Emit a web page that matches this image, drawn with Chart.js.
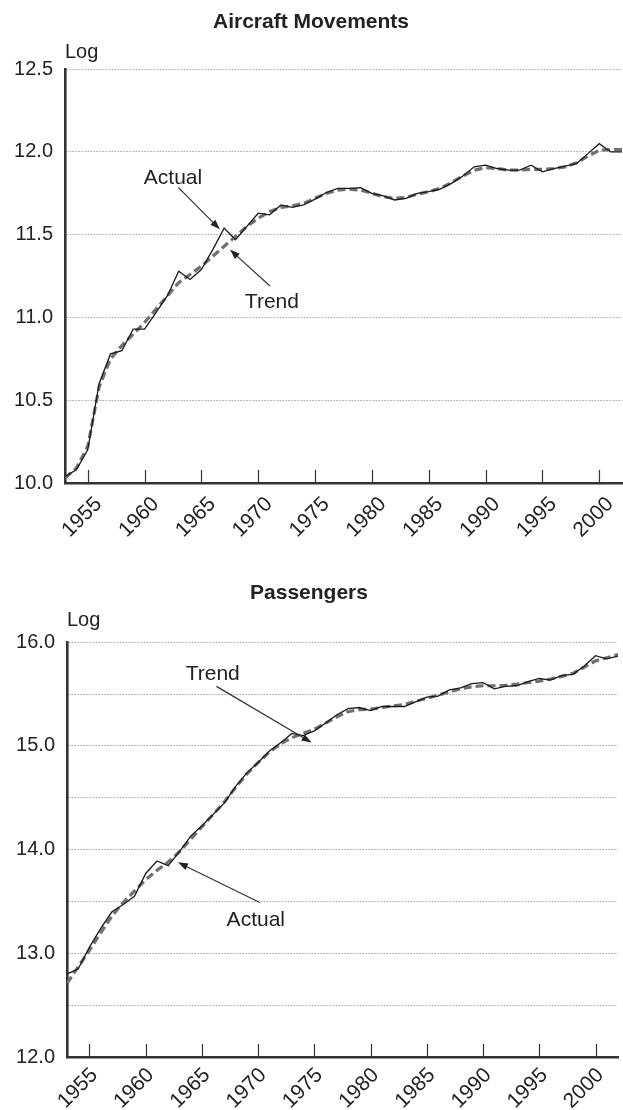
<!DOCTYPE html>
<html>
<head>
<meta charset="utf-8">
<script src="https://cdn.jsdelivr.net/npm/chart.js@4.4.0/dist/chart.umd.min.js"></script>
<style>
  html, body { margin: 0; padding: 0; background: #fff; }
  .box { position: absolute; left: 0; width: 623px; }
  #top { top: 0; height: 560px; }
  #bot { top: 560px; height: 550px; }
</style>
</head>
<body>
<div class="box" id="top"><canvas id="c1"></canvas></div>
<div class="box" id="bot"><canvas id="c2"></canvas></div>
<script>
// Aircraft movements / passengers, log scale, actual vs trend

const years = [1953, 1954, 1955, 1956, 1957, 1958, 1959, 1960, 1961, 1962,
  1963, 1964, 1965, 1966, 1967, 1968, 1969, 1970, 1971, 1972,
  1973, 1974, 1975, 1976, 1977, 1978, 1979, 1980, 1981, 1982,
  1983, 1984, 1985, 1986, 1987, 1988, 1989, 1990, 1991, 1992,
  1993, 1994, 1995, 1996, 1997, 1998, 1999, 2000, 2001, 2002];
const yearTicks = [1955, 1960, 1965, 1970, 1975, 1980, 1985, 1990, 1995, 2000];

const movActual = [10.04, 10.08, 10.2, 10.6, 10.78, 10.8, 10.93, 10.93, 11.03, 11.13,
  11.28, 11.23, 11.29, 11.41, 11.54, 11.47, 11.55, 11.63, 11.62, 11.68,
  11.665, 11.68, 11.715, 11.755, 11.78, 11.78, 11.785, 11.75, 11.735, 11.71,
  11.72, 11.75, 11.76, 11.775, 11.81, 11.855, 11.91, 11.92, 11.9, 11.89,
  11.89, 11.92, 11.88, 11.9, 11.915, 11.93, 11.99, 12.05, 12.0, 12.0];
const movTrend = [10.03, 10.09, 10.22, 10.58, 10.75, 10.83, 10.9, 10.97, 11.05, 11.13,
  11.21, 11.26, 11.31, 11.37, 11.43, 11.49, 11.55, 11.6, 11.64, 11.665,
  11.675, 11.69, 11.72, 11.75, 11.77, 11.775, 11.77, 11.75, 11.73, 11.72,
  11.725, 11.745, 11.76, 11.78, 11.815, 11.855, 11.89, 11.905, 11.9, 11.89,
  11.89, 11.895, 11.895, 11.9, 11.91, 11.935, 11.975, 12.01, 12.015, 12.015];

const paxActual = [12.8, 12.85, 13.06, 13.24, 13.4, 13.47, 13.55, 13.77, 13.89, 13.845,
  13.98, 14.13, 14.23, 14.34, 14.45, 14.61, 14.74, 14.84, 14.95, 15.03,
  15.12, 15.1, 15.145, 15.22, 15.3, 15.36, 15.37, 15.34, 15.38, 15.38,
  15.38, 15.425, 15.47, 15.48, 15.54, 15.56, 15.6, 15.61, 15.55, 15.575,
  15.58, 15.62, 15.65, 15.635, 15.68, 15.69, 15.77, 15.87, 15.84, 15.865];
const paxTrend = [12.71, 12.87, 13.03, 13.2, 13.36, 13.49, 13.6, 13.71, 13.8, 13.88,
  13.98, 14.1, 14.22, 14.34, 14.46, 14.6, 14.73, 14.84, 14.94, 15.02,
  15.08, 15.12, 15.16, 15.22, 15.28, 15.33, 15.35, 15.355, 15.37, 15.385,
  15.4, 15.43, 15.46, 15.49, 15.52, 15.55, 15.57, 15.58, 15.58, 15.585,
  15.595, 15.61, 15.625, 15.645, 15.67, 15.7, 15.76, 15.82, 15.85, 15.88];

// callouts, in data units: [year, value]
const movNotes = [
  { text: 'Actual', at: [1962.5, 11.84], from: [1962.96, 11.786], to: [1966.63, 11.533] },
  { text: 'Trend', at: [1971.2, 11.09], from: [1971.03, 11.19], to: [1967.51, 11.41] },
];
const paxNotes = [
  { text: 'Trend', at: [1965.96, 15.69], from: [1966.29, 15.574], to: [1974.75, 15.032] },
  { text: 'Actual', at: [1969.79, 13.32], from: [1970.14, 13.49], to: [1962.87, 13.877] },
];

const INK = '#222';
const FONT = "'Liberation Sans', Arial, Helvetica, sans-serif";
Chart.defaults.font.family = FONT;
Chart.defaults.color = INK;

const pts = (vals) => vals.map((v, i) => ({ x: years[i], y: v }));

const decor = {
  id: 'decor',
  afterDraw(chart, args, o) {
    const { ctx, chartArea: a, scales: { x, y } } = chart;
    ctx.save();
    // "Log" unit label above the axis
    ctx.fillStyle = INK;
    ctx.font = `20px ${FONT}`;
    ctx.textAlign = 'left';
    ctx.textBaseline = 'alphabetic';
    ctx.fillText('Log', a.left, a.top - o.logGap);
    // inward tick marks
    ctx.strokeStyle = '#333';
    ctx.lineWidth = 1.2;
    yearTicks.forEach(t => {
      const px = Math.round(x.getPixelForValue(t)) + 0.5;
      ctx.beginPath(); ctx.moveTo(px, a.bottom); ctx.lineTo(px, a.bottom - 13); ctx.stroke();
    });
    // callouts
    ctx.font = `21px ${FONT}`;
    ctx.textAlign = 'center';
    ctx.textBaseline = 'middle';
    o.notes.forEach(n => {
      ctx.fillText(n.text, x.getPixelForValue(n.at[0]), y.getPixelForValue(n.at[1]));
      const x1 = x.getPixelForValue(n.from[0]), y1 = y.getPixelForValue(n.from[1]);
      const x2 = x.getPixelForValue(n.to[0]), y2 = y.getPixelForValue(n.to[1]);
      const ang = Math.atan2(y2 - y1, x2 - x1);
      ctx.beginPath(); ctx.moveTo(x1, y1);
      ctx.lineTo(x2 - 7 * Math.cos(ang), y2 - 7 * Math.sin(ang)); ctx.stroke();
      ctx.beginPath();
      ctx.moveTo(x2, y2);
      ctx.lineTo(x2 - 10 * Math.cos(ang) + 3.5 * Math.sin(ang), y2 - 10 * Math.sin(ang) - 3.5 * Math.cos(ang));
      ctx.lineTo(x2 - 10 * Math.cos(ang) - 3.5 * Math.sin(ang), y2 - 10 * Math.sin(ang) + 3.5 * Math.cos(ang));
      ctx.closePath(); ctx.fillStyle = INK; ctx.fill();
    });
    ctx.restore();
  },
};

function makeChart(id, cfg) {
  return new Chart(document.getElementById(id), {
    type: 'line',
    data: {
      datasets: [
        { label: 'Actual', data: pts(cfg.actual), borderColor: '#1a1a1a', borderWidth: 1.3, pointRadius: 0, tension: 0 },
        { label: 'Trend', data: pts(cfg.trend), borderColor: '#707070', borderWidth: 3.2, borderDash: [8, 4], pointRadius: 0, tension: 0 },
      ],
    },
    options: {
      responsive: true, maintainAspectRatio: false, animation: false,
      layout: { padding: { left: 0, right: cfg.padRight, top: 0, bottom: 0 } },
      plugins: {
        legend: { display: false }, tooltip: { enabled: false },
        title: { display: true, text: cfg.title, color: INK, font: { size: 21, weight: 'bold' }, padding: cfg.titlePad },
        decor: { logGap: cfg.logGap, notes: cfg.notes },
      },
      scales: {
        x: {
          type: 'linear', min: 1953, max: 2002,
          afterBuildTicks: s => { s.ticks = yearTicks.map(v => ({ value: v })); },
          afterFit: s => { s.height = cfg.xHeight; s.paddingLeft = 0; s.paddingRight = 0; },
          grid: { display: false, drawTicks: false },
          border: { display: true, color: '#333', width: 2.6 },
          ticks: { minRotation: 45, maxRotation: 45, autoSkip: false, padding: cfg.xPad, labelOffset: cfg.xShift, color: INK, font: { size: 21 }, callback: v => String(v) },
        },
        y: {
          min: cfg.yMin, max: cfg.yMax,
          afterFit: s => { s.width = cfg.yWidth; },
          grid: { color: '#777', lineWidth: 1, drawTicks: false },
          border: { display: true, color: '#333', width: 2.6, dash: [1, 2] },
          ticks: { stepSize: 0.5, padding: 12, color: INK, font: { size: 20 }, callback: cfg.yLabel },
        },
      },
    },
    plugins: [decor],
  });
}

makeChart('c1', {
  title: 'Aircraft Movements', actual: movActual, trend: movTrend, notes: movNotes,
  yMin: 10, yMax: 12.5, yWidth: 65, xHeight: 77, padRight: 1, logGap: 11,
  xPad: 9, xShift: 11,
  titlePad: { top: 10, bottom: 34 },
  yLabel: v => v.toFixed(1),
});

makeChart('c2', {
  title: 'Passengers', actual: paxActual, trend: paxTrend, notes: paxNotes,
  yMin: 12, yMax: 16, yWidth: 67, xHeight: 53, padRight: 5, logGap: 16,
  xPad: 6, xShift: 5,
  titlePad: { top: 21, bottom: 36 },
  yLabel: v => (Number.isInteger(v) ? v.toFixed(1) : ''),
});
</script>
</body>
</html>
